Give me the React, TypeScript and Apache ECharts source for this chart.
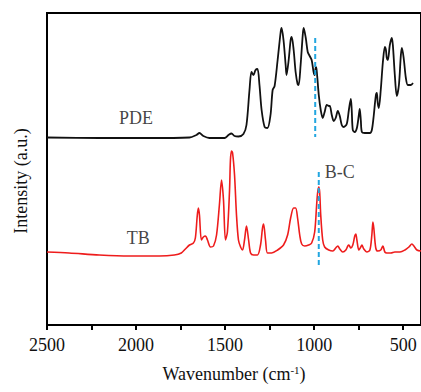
import React, { useEffect, useRef } from "react";
import * as echarts from "echarts";

// Wavenumber (cm-1) and intensity (a.u., arbitrary)
const pdeWavenumber = [2500, 2207, 1926, 1700, 1661, 1644, 1622, 1588, 1503, 1481, 1464, 1447, 1425, 1397, 1380, 1363, 1352, 1341, 1329, 1318, 1307, 1295, 1278, 1262, 1245, 1233, 1222, 1205, 1188, 1183, 1172, 1160, 1155, 1143, 1132, 1126, 1115, 1104, 1093, 1087, 1076, 1064, 1059, 1047, 1036, 1025, 1014, 1003, 997, 991, 986, 974, 963, 952, 941, 929, 918, 912, 901, 890, 879, 867, 856, 845, 834, 817, 805, 794, 789, 783, 772, 760, 749, 744, 738, 732, 716, 687, 676, 665, 654, 648, 643, 637, 626, 614, 603, 597, 592, 586, 575, 564, 558, 547, 536, 524, 513, 507, 496, 485, 474, 457, 445];
const pdeIntensity = [187.5, 187, 187, 187.5, 190, 192, 189, 187, 187, 190, 191.5, 189, 188.5, 191, 200, 235, 253, 250, 255, 256, 240, 215, 198, 197, 210, 235, 239, 265, 293, 297, 285, 260, 250, 265, 285, 288, 275, 253, 241, 240, 260, 290, 297, 287, 273, 269, 265, 253, 250, 258, 255, 230, 215, 207, 213, 220, 219, 219, 210, 204, 207, 214, 209, 200, 198, 201, 215, 226, 215, 195, 193, 197, 210, 216, 205, 193, 192, 192, 195, 210, 229, 232, 222, 217, 235, 263, 278, 275, 267, 265, 280, 287, 280, 250, 229, 240, 270, 277, 265, 247, 240, 240, 242];

const tbWavenumber = [2500, 2376, 2207, 2038, 1869, 1785, 1746, 1723, 1700, 1678, 1667, 1656, 1650, 1644, 1633, 1622, 1610, 1599, 1582, 1565, 1548, 1532, 1520, 1509, 1498, 1487, 1475, 1470, 1464, 1458, 1447, 1436, 1425, 1413, 1402, 1391, 1380, 1368, 1357, 1340, 1318, 1301, 1290, 1284, 1273, 1262, 1239, 1205, 1172, 1149, 1132, 1115, 1104, 1093, 1081, 1070, 1053, 1031, 1014, 997, 986, 980, 974, 969, 963, 952, 941, 918, 895, 879, 867, 856, 839, 822, 811, 805, 794, 783, 772, 766, 760, 749, 738, 732, 721, 704, 687, 676, 670, 665, 654, 643, 626, 614, 603, 592, 580, 569, 547, 518, 490, 468, 451, 440, 423, 400];
const tbIntensity = [73, 72, 70, 69, 69, 70, 72, 76, 80, 82, 87, 110, 117, 110, 85, 88, 89, 85, 78, 79, 90, 120, 145, 125, 85, 93, 135, 165, 174, 172, 150, 110, 85, 78, 75, 85, 99, 85, 72, 70, 70, 80, 97, 101, 85, 72, 72, 75, 80, 90, 107, 117, 117, 107, 90, 81, 79, 80, 82, 93, 120, 133, 138, 133, 110, 85, 78, 75, 74, 77, 79, 76, 73, 75, 79, 80, 77, 80, 89, 91, 85, 75, 78, 80, 76, 73, 75, 90, 103, 97, 77, 74, 75, 79, 73, 72, 72, 72, 73, 73, 75, 78, 81, 79, 75, 74];

// Dashed marker lines: [wavenumber, intensity from, intensity to]
const markerPDE = [994, 287, 188];
const markerTB = [974, 153, 57];

// Annotation labels: [text, wavenumber, intensity]
const annotations: [string, number, number][] = [
  ["PDE", 2000, 207],
  ["TB", 1988, 87],
  ["B-C", 856, 153],
];

const X_MIN = 400;
const X_MAX = 2500;
const Y_MIN = 0;
const Y_MAX = 312;
const majorTicks = [500, 1000, 1500, 2000, 2500];
const allTicks = [500, 750, 1000, 1250, 1500, 1750, 2000, 2250, 2500];

const FONT = "'Liberation Serif', 'Times New Roman', serif";

export default function App() {
  const ref = useRef<HTMLDivElement>(null);
  useEffect(() => {
    if (!ref.current) return;
    const chart = echarts.init(ref.current, null, { renderer: "svg" });
    const zip = (a: number[], b: number[]) => a.map((v, i) => [v, b[i]]);
    chart.setOption({
      animation: false,
      grid: {
        show: true,
        left: 47,
        right: 0,
        top: 13,
        bottom: 67,
        containLabel: false,
        outerBoundsMode: "none",
        borderColor: "#000",
        borderWidth: 2,
      },
      xAxis: {
        type: "value",
        min: X_MIN,
        max: X_MAX,
        inverse: true,
        splitLine: { show: false },
        axisLine: { show: true, onZero: false, lineStyle: { color: "#000", width: 2 } },
        axisTick: {
          show: true,
          customValues: allTicks,
          length: 5,
          lineStyle: { color: "#000", width: 2 },
        },
        axisLabel: {
          show: true,
          customValues: majorTicks,
          formatter: (v: number) => String(v),
          margin: 11,
          color: "#111",
          fontFamily: FONT,
          fontSize: 18,
        },
        name: "Wavenumber (cm{sup|-1})",
        nameLocation: "middle",
        nameGap: 39,
        nameTextStyle: {
          color: "#111",
          fontFamily: FONT,
          fontSize: 18,
          rich: {
            sup: { fontFamily: FONT, fontSize: 11, verticalAlign: "top", padding: [0, 0, 8, 0], color: "#111" },
          },
        },
      },
      yAxis: {
        type: "value",
        min: Y_MIN,
        max: Y_MAX,
        axisLine: { show: true, onZero: false, lineStyle: { color: "#000", width: 2 } },
        axisTick: { show: false },
        axisLabel: { show: false },
        splitLine: { show: false },
      },
      graphic: [
        {
          id: "ytitle",
          type: "text",
          x: 21,
          y: 181,
          rotation: Math.PI / 2,
          style: {
            text: "Intensity (a.u.)",
            fontFamily: FONT,
            fontSize: 18,
            fill: "#111",
            align: "center",
            verticalAlign: "middle",
          },
        },
      ],
      series: [
        {
          type: "line",
          data: zip(pdeWavenumber, pdeIntensity),
          showSymbol: false,
          smooth: 0.3,
          lineStyle: { color: "#111", width: 1.8 },
          z: 3,
        },
        {
          type: "line",
          data: zip(tbWavenumber, tbIntensity),
          showSymbol: false,
          smooth: 0.3,
          lineStyle: { color: "#ee1c1c", width: 1.6 },
          z: 3,
        },
        {
          type: "line",
          data: [
            [markerPDE[0], markerPDE[1]],
            [markerPDE[0], markerPDE[2]],
          ],
          showSymbol: false,
          lineStyle: { color: "#22a6e0", width: 2, type: [5, 3] },
          z: 4,
        },
        {
          type: "line",
          data: [
            [markerTB[0], markerTB[1]],
            [markerTB[0], markerTB[2]],
          ],
          showSymbol: false,
          lineStyle: { color: "#22a6e0", width: 2, type: [5, 3] },
          z: 4,
        },
        {
          type: "scatter",
          symbolSize: 0,
          data: annotations.map(([t, w, v]) => ({ name: t, value: [w, v] })),
          label: {
            show: true,
            position: "inside",
            formatter: (p: any) => p.name,
            fontFamily: FONT,
            fontSize: 18,
            color: "#111",
          },
          z: 5,
        },
      ],
    });
    // Top frame line, placed through the library's own scales
    const a = chart.convertToPixel({ gridIndex: 0 }, [X_MAX, Y_MAX]) as number[];
    const b = chart.convertToPixel({ gridIndex: 0 }, [X_MIN, Y_MAX]) as number[];
    if (a && b && isFinite(a[0]) && isFinite(a[1]) && isFinite(b[0])) {
      chart.setOption({
        graphic: [
          {
            id: "topframe",
            type: "line",
            z: 100,
            shape: { x1: a[0] - 1, y1: a[1], x2: b[0], y2: b[1] },
            style: { stroke: "#000", lineWidth: 2 },
          },
        ],
      });
    }
    return () => chart.dispose();
  }, []);
  return (
    <div
      ref={ref}
      style={{ position: "absolute", left: 0, top: 0, width: 421, height: 392 }}
    />
  );
}
